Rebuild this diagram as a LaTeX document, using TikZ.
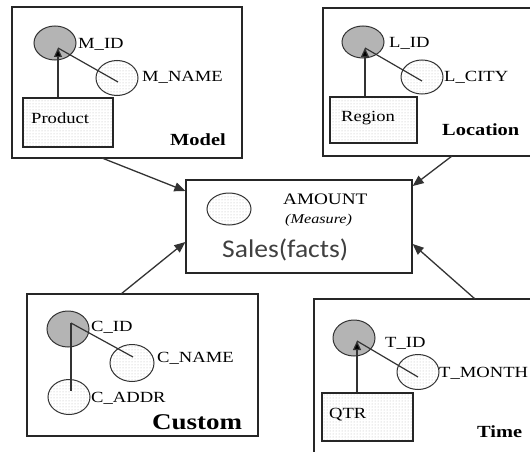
\documentclass[tikz,border=0pt]{standalone}
\usepackage{fontspec}
\usetikzlibrary{arrows.meta,patterns,shapes.geometric,calc}
\newfontfamily\ser[FakeStretch=1.2]{Liberation Serif}
\newfontfamily\salesfont[FakeStretch=1.08]{Carlito}
\definecolor{keygray}{HTML}{B4B4B4}
\tikzset{
  box/.style={draw=black!85, line width=1.3pt, inner sep=0pt},
  dotbox/.style={draw=black!85, line width=1.2pt, inner sep=0pt, pattern=dots, pattern color=gray!55},
  keyell/.style={ellipse, draw=black!80, line width=1pt, fill=keygray, inner sep=0pt, minimum width=42pt, minimum height=34pt},
  attell/.style={ellipse, draw=black!80, line width=1pt, pattern=dots, pattern color=gray!55, inner sep=0pt, minimum width=42pt, minimum height=35pt},
  lbl/.style={inner sep=0pt, anchor=west, font=\ser\fontsize{15.5}{18}\selectfont},
  ttl/.style={inner sep=0pt, anchor=west, font=\ser\bfseries\fontsize{17}{20}\selectfont},
  link/.style={draw=black!80, line width=1.3pt, -{Triangle[length=11pt,width=9pt]}},
  inlink/.style={draw=black!80, line width=1.2pt},
  inarrow/.style={draw=black!80, line width=1.2pt, -{Triangle[length=9pt,width=8pt,fill=black]}},
}
\begin{document}
\begin{tikzpicture}[x=1pt,y=-1pt]
\useasboundingbox (0,0) rectangle (530,452);
\fill[white] (0,0) rectangle (530,452);

% ---------- Model ----------
\node[box, minimum width=230pt, minimum height=151pt] (model) at (127,82.5) {};
\node[keyell] (mid) at (55,43) {};
\node[attell, minimum height=35pt] (mname) at (117,78) {};
\node[dotbox, minimum width=90pt, minimum height=49pt] (product) at (68,122.5) {};
\node[lbl] (tmid) at (78,44) {M\_ID};
\node[lbl] (tmname) at (142,77) {M\_NAME};
\node[lbl] (tproduct) at (31,118) {Product};
\node[ttl] (tmodel) at (170,140) {Model};
\coordinate (mtip) at (58,48);
\coordinate (mnc) at ($(mname.center)+(1,4)$);
\draw[inarrow] (product.north -| mtip) -- (mtip);
\draw[inlink] (mnc) -- (mtip);

% ---------- Location ----------
\node[box, minimum width=215pt, minimum height=148pt] (location) at (430.5,82) {};
\node[keyell, minimum height=32pt] (lid) at (363,42) {};
\node[attell, minimum height=34pt] (lcity) at (422,77) {};
\node[dotbox, minimum width=87pt, minimum height=46pt] (region) at (373.5,120) {};
\node[lbl] (tlid) at (389,43) {L\_ID};
\node[lbl] (tlcity) at (444,77) {L\_CITY};
\node[lbl] (tregion) at (341,118) {Region};
\node[ttl] (tlocation) at (442,130) {Location};
\coordinate (ltip) at (365,48);
\coordinate (lcc) at ($(lcity.center)+(0,4)$);
\draw[inarrow] (region.north -| ltip) -- (ltip);
\draw[inlink] (lcc) -- (ltip);

% ---------- Sales ----------
\node[box, minimum width=226pt, minimum height=93pt] (sales) at (299,226.5) {};
\node[attell, minimum width=44pt, minimum height=32pt] (amt) at (229,209) {};
\node[lbl, font=\ser\fontsize{16}{18}\selectfont] (tamount) at (283,199) {AMOUNT};
\node[lbl, font=\ser\itshape\fontsize{13.5}{16}\selectfont] (tmeasure) at (285,220) {(Measure)};
\node[lbl, font=\salesfont\fontsize{25.5}{28}\selectfont, text=black!75] (tsales) at (222,250) {Sales(facts)};

% ---------- Custom ----------
\node[box, minimum width=231pt, minimum height=142pt] (custom) at (142.5,365) {};
\node[keyell, minimum height=36pt] (cid) at (68,329) {};
\node[attell, minimum width=44pt, minimum height=37pt] (cname) at (132,363) {};
\node[attell, minimum height=35pt] (caddr) at (69,397) {};
\node[lbl] (tcid) at (91,327) {C\_ID};
\node[lbl] (tcname) at (157,358) {C\_NAME};
\node[lbl] (tcaddr) at (91,398) {C\_ADDR};
\node[ttl, font=\ser\bfseries\fontsize{22.5}{26}\selectfont] (tcustom) at (152,422) {Custom};
\coordinate (ctop) at (71,323);
\coordinate (cnc) at ($(cname.center)+(1,-6)$);
\coordinate (cac) at ($(ctop |- caddr.center)+(0,-6)$);
\draw[inlink] (ctop) -- (cnc);
\draw[inlink] (ctop) -- (cac);

% ---------- Time ----------
\node[box, minimum width=230pt, minimum height=170pt] (time) at (429,384) {};
\node[keyell, minimum height=36pt] (tid) at (354,338) {};
\node[attell, minimum height=35pt] (tmonth) at (418,372) {};
\node[dotbox, minimum width=91pt, minimum height=48pt] (qtr) at (367.5,417) {};
\node[lbl] (ttid) at (385,343) {T\_ID};
\node[lbl] (ttmonth) at (439,373) {T\_MONTH};
\node[lbl] (tqtr) at (329,415) {QTR};
\node[ttl] (ttime) at (477,432) {Time};
\coordinate (ttip) at (357,341);
\coordinate (tmc) at ($(tmonth.center)+(0,5)$);
\draw[inarrow] (qtr.north -| ttip) -- (ttip);
\draw[inlink] (tmc) -- (ttip);

% ---------- connectors to facts ----------
\coordinate (m1) at (102,158);
\coordinate (l1) at (452,156);
\coordinate (c1) at (121,294);
\coordinate (t1) at (475,299);
\coordinate (m2) at (sales.west |- 0,191);
\coordinate (c2) at (sales.west |- 0,242);
\coordinate (l2) at (sales.east |- 0,186);
\coordinate (t2) at (sales.east |- 0,244);
\draw[link] (m1) -- (m2);
\draw[link] (c1) -- (c2);
\draw[link] (l1) -- (l2);
\draw[link] (t1) -- (t2);
\end{tikzpicture}
\end{document}
